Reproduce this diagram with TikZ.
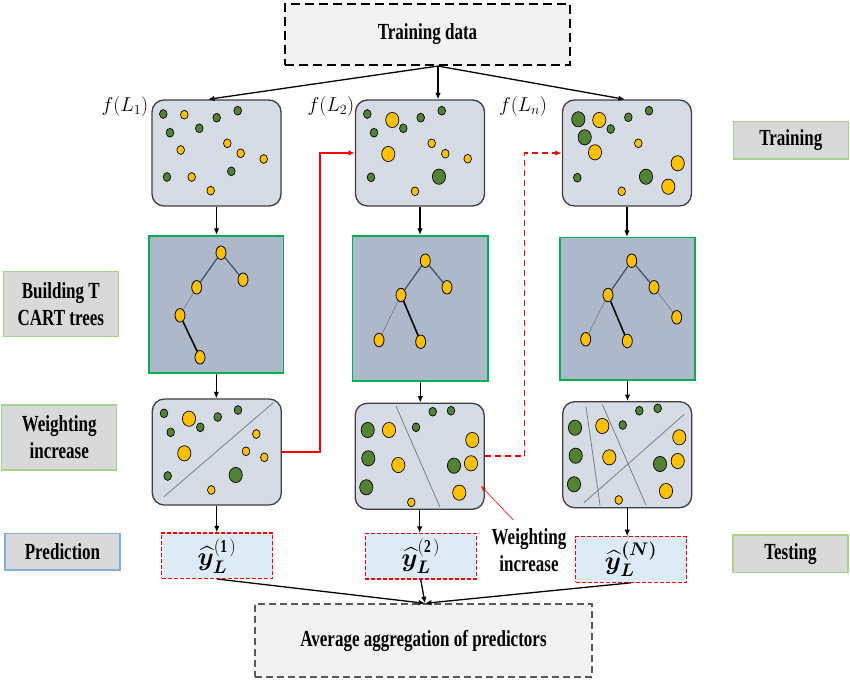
\RequirePackage{fix-cm}
\documentclass[tikz,border=0pt]{standalone}
\usepackage{amsmath}
\usepackage{bm}
\usepackage{fontspec}
\setmainfont{Liberation Serif}[FakeStretch=0.74]
\usetikzlibrary{arrows.meta,shapes.geometric}
\definecolor{boxfill}{HTML}{D6DCE5}
\definecolor{boxline}{HTML}{3F3F3F}
\definecolor{treefill}{HTML}{ADB9CA}
\definecolor{treeline}{HTML}{00B050}
\definecolor{yel}{HTML}{FFC000}
\definecolor{dgreen}{HTML}{548235}
\definecolor{lblfill}{HTML}{D9D9D9}
\definecolor{lblgreen}{HTML}{A9D18E}
\definecolor{lblblue}{HTML}{7FAEDC}
\definecolor{predfill}{HTML}{DEEBF7}
\definecolor{lightgray}{HTML}{F2F2F2}
\definecolor{avgline}{HTML}{595959}
\definecolor{edgedark}{HTML}{44546A}
\definecolor{edgegray}{HTML}{7F7F7F}
\begin{document}
\begin{tikzpicture}[x=1pt,y=-1pt,
  txt/.style={font=\fontsize{23}{27}\selectfont\bfseries, align=center},
  databox/.style={draw=boxline, line width=1.3pt, fill=boxfill, rounded corners=12pt, minimum width=129pt, minimum height=106pt, inner sep=0pt},
  treebox/.style={draw=treeline, line width=1.6pt, fill=treefill, inner sep=0pt},
  predbox/.style={draw=red, dashed, dash pattern=on 4pt off 2pt, line width=1.1pt, fill=predfill, inner sep=0pt, minimum width=111pt, minimum height=45.5pt},
  lblbox/.style={txt, draw=lblgreen, line width=1.2pt, fill=lblfill, inner sep=0pt, minimum width=115pt},
  arr/.style={line width=1.3pt, -{Latex[length=6.5pt,width=5.5pt]}},
  redarr/.style={red, line width=1.8pt, -{Latex[length=6.5pt,width=5.5pt]}},
  gdot/.style={draw=black, line width=0.7pt, fill=dgreen},
  ydot/.style={draw=black, line width=0.7pt, fill=yel},
  tnode/.style={ellipse, draw=black, line width=0.8pt, fill=yel, minimum width=10pt, minimum height=13.5pt, inner sep=0pt},
  emid/.style={draw=edgedark, line width=1.3pt},
  ethin/.style={draw=edgegray, line width=0.7pt},
  ethick/.style={draw=black, line width=1.6pt},
  fl/.style={font=\fontsize{20}{22}\selectfont},
  yl/.style={font=\fontsize{26}{28}\selectfont}
]
\useasboundingbox (0,0) rectangle (850,680);
\fill[white] (0,0) rectangle (850,680);

% top and bottom boxes
\node[txt, draw=black, fill=lightgray, line width=2.5pt, dash pattern=on 9pt off 5pt, minimum width=285pt, minimum height=61pt, inner sep=0pt] (train) at (427.5,34.3) {Training data};
\node[txt, draw=avgline, fill=lightgray, line width=1.4pt, dash pattern=on 7pt off 4pt, minimum width=337pt, minimum height=73pt, inner sep=0pt] (avg) at (423.5,640.5) {Average aggregation of predictors};

% side labels
\node[lblbox, minimum height=65pt] (lb1) at (60.8,304.2) {Building T\\CART trees};
\node[lblbox, minimum height=65pt] (lb2) at (59.2,437.5) {Weighting\\increase};
\node[lblbox, draw=lblblue, minimum height=36.7pt] (lb3) at (62.5,551.7) {Prediction};
\node[lblbox, minimum height=37.3pt] (rt1) at (790.8,140.3) {Training};
\node[lblbox, minimum height=37.7pt] (rt2) at (790.5,553.8) {Testing};

% f(L) labels
\node[fl] (f1) at (125,106) {$f(L_1)$};
\node[fl] (f2) at (331,106) {$f(L_2)$};
\node[fl] (f3) at (523,106) {$f(L_n)$};

% data boxes
\node[databox] (d1) at (216.5,153) {};
\node[databox] (d2) at (420,153) {};
\node[databox] (d3) at (626.9,153) {};
% tree boxes
\node[treebox, minimum width=134.7pt, minimum height=137pt] (t1) at (216.3,304.2) {};
\node[treebox, minimum width=135.3pt, minimum height=145pt] (t2) at (420.3,308.2) {};
\node[treebox, minimum width=135pt, minimum height=142.3pt] (t3) at (627.5,308.8) {};
% weight boxes
\node[databox] (w1) at (216.8,452) {};
\node[databox] (w2) at (419.7,456.3) {};
\node[databox] (w3) at (627.2,454.7) {};
% prediction boxes
\node[predbox, yl] (p1) at (217,555.7) {$\bm{\widehat{y}}_{\bm{L}}^{\mathbf{(1)}}$};
\node[predbox, yl] (p2) at (420.7,556.2) {$\bm{\widehat{y}}_{\bm{L}}^{\mathbf{(2)}}$};
\node[predbox, yl] (p3) at (631,559.5) {$\bm{\widehat{y}}_{\bm{L}}^{\bm{(N)}}$};

% dots: small and big
\foreach \x/\y in {163.3/114,216.7/117.7,237.7/110.7,170/132.7,199.3/128.3,167/177,231.3/171.3,
  367.3/114,403.3/128.3,420.7/117.7,441.7/110.7,374/132.7,371/177.3,
  610.7/129,628.3/117.3,649/110.7,577.3/177.7,
  164/413.3,200.3/427.3,217.7/417,238/410,170.7/432.3,167.7/476,
  416/427.3,432.7/411.7,451/410.7,
  622.7/425,639.3/410.7,657.7/408.3}
  \draw[gdot] (\x,\y) ellipse[x radius=3.8pt, y radius=4.4pt];
\foreach \x/\y in {439/176.7,578.3/119.3,584.7/137.3,646/176.7,235.7/475,
  367.7/430,368.3/458.3,366.3/487.3,454/465.7,
  575/427.7,575.7/455.7,574/484.3,660/464}
  \draw[gdot] (\x,\y) ellipse[x radius=6.6pt, y radius=7.6pt];
\foreach \x/\y in {184.3/114.7,180.7/150,227.3/143.3,240.7/153.3,263.7/159,191.7/177,210.7/190.7,
  431.7/143.3,445.3/153.7,467.7/158.7,415/191.3,
  638.3/143.3,621.7/191.3,
  256.3/434,246/451.3,264.3/457.3,211.3/490,
  411.3/502.3,618.7/500}
  \draw[ydot] (\x,\y) ellipse[x radius=3.8pt, y radius=4.4pt];
\foreach \x/\y in {392.3/120,388.3/154,599.3/120,595/152.3,677.7/163.3,668.3/186.7,
  189/418.7,184.3/453.3,
  389/430,398.3/465,472.3/440,471/463.3,459.3/492.7,
  602.3/426,609.3/457.3,679.3/437.3,677.7/461,666/491}
  \draw[ydot] (\x,\y) ellipse[x radius=6.6pt, y radius=7.6pt];

% separating lines
\draw[edgegray, line width=0.8pt] (164,496.7) -- (273.3,402.7);
\draw[edgegray, line width=0.8pt] (396,406) -- (440,507.3);
\draw[edgegray, line width=0.8pt] (586,406.7) -- (600,505);
\draw[edgegray, line width=0.8pt] (602.3,404.3) -- (646,505);
\draw[edgegray, line width=0.8pt] (584,502.7) -- (684.3,414.3);

% trees
\node[tnode] (aa) at (221,252.7) {};
\node[tnode] (ab) at (196.7,287.3) {};
\node[tnode] (ac) at (243,279.7) {};
\node[tnode] (ad) at (180,315.3) {};
\node[tnode] (ae) at (200,357.3) {};
\draw[emid] (aa) -- (ab); \draw[emid] (aa) -- (ac);
\draw[ethin] (ab) -- (ad); \draw[ethick] (ad) -- (ae);

\node[tnode] (ba) at (425.3,260.7) {};
\node[tnode] (bb) at (401,295) {};
\node[tnode] (bc) at (447,287.3) {};
\node[tnode] (bd) at (379,340) {};
\node[tnode] (be) at (420.7,341.7) {};
\draw[emid] (ba) -- (bb); \draw[emid] (ba) -- (bc);
\draw[ethin] (bb) -- (bd); \draw[ethick] (bb) -- (be);

\node[tnode] (ca) at (631.7,260.7) {};
\node[tnode] (cb) at (608,295) {};
\node[tnode] (cc) at (654,287.3) {};
\node[tnode] (cd) at (585.7,339.3) {};
\node[tnode] (ce) at (627.3,341) {};
\node[tnode] (cf) at (676.7,317.3) {};
\draw[emid] (ca) -- (cb); \draw[emid] (ca) -- (cc);
\draw[ethin] (cb) -- (cd); \draw[ethick] (cb) -- (ce); \draw[ethin] (cc) -- (cf);

% arrows from training data
\coordinate (tsrc) at ([xshift=10.5pt]train.south);
\draw[arr] (tsrc) -- ([xshift=-8.5pt]d1.north);
\draw[arr] (tsrc) -- (tsrc |- d2.north);
\draw[arr] (tsrc) -- ([xshift=-2pt]d3.north);

% column arrows
\draw[arr] (d1.south) -- (d1.south |- t1.north);
\draw[arr] (t1.south) -- (t1.south |- w1.north);
\draw[arr] (w1.south) -- (w1.south |- p1.north);
\draw[arr] (d2.south) -- (d2.south |- t2.north);
\draw[arr] (t2.south) -- (t2.south |- w2.north);
\draw[arr] (w2.south) -- (w2.south |- p2.north);
\draw[arr] (d3.south) -- (d3.south |- t3.north);
\draw[arr] (t3.south) -- (t3.south |- w3.north);
\draw[arr] (w3.south) -- (w3.south |- p3.north);

% red feedback arrows
\draw[redarr] (w1.east) -- ++(37.7,0) |- (d2.west);
\draw[redarr, dashed, dash pattern=on 6pt off 4pt] (w2.east) -- ++(39.7,0) |- (d3.west);

% weighting increase annotation
\node[txt] (wlab) at (529,550) {Weighting\\increase};
\coordinate (wtail) at (513.3,520);
\coordinate (whead) at (481,486);
\draw[red, line width=0.6pt, -{Latex[length=5pt,width=4pt]}] (wtail) -- (whead);

% to aggregation
\coordinate (aggin) at ([xshift=1.5pt]avg.north);
\draw[arr] (p1.south) -- (aggin);
\draw[arr] (p2.south) -- (aggin);
\draw[arr] (p3.south) -- (aggin);
\end{tikzpicture}
\end{document}
